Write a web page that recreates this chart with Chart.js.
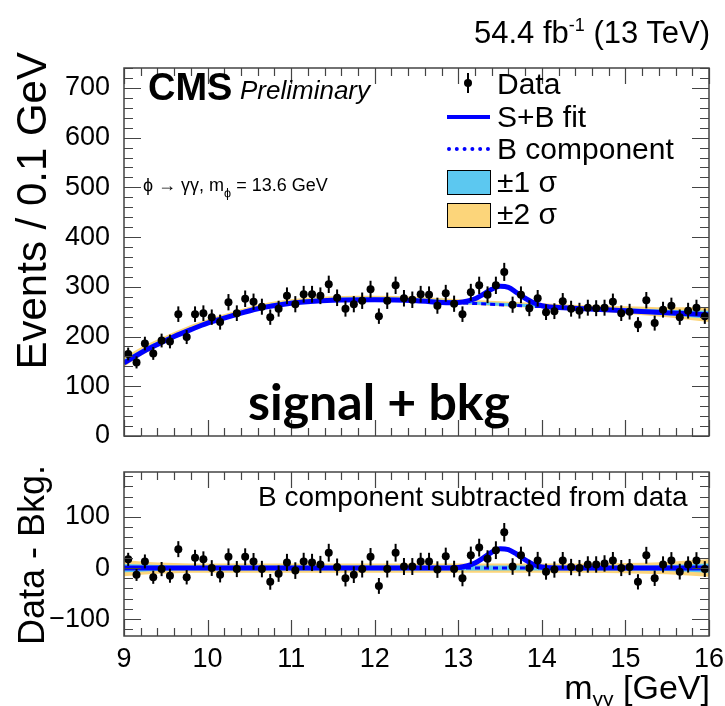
<!DOCTYPE html>
<html>
<head>
<meta charset="utf-8">
<script src="https://cdn.jsdelivr.net/npm/chart.js@4.4.1/dist/chart.umd.min.js"></script>
<style>
  body { margin: 0; background: #fff; }
  #wrap { position: relative; width: 725px; height: 706px; font-family: "Liberation Sans", Arial, sans-serif; color: #000; overflow: hidden; }
  #wrap canvas { position: absolute; left: 0; }
  .txt { position: absolute; white-space: nowrap; line-height: 1; }
  .sym { position: absolute; }
  .ytitle { position: absolute; white-space: nowrap; transform: rotate(-90deg); transform-origin: 50% 50%; }
</style>
</head>
<body>
<div id="wrap">
  <canvas id="topChart" width="725" height="450" style="top:0"></canvas>
  <canvas id="ratioChart" width="725" height="256" style="top:450px"></canvas>

  <div class="txt" style="right:15px; top:17px; font-size:31px;">54.4 fb<span style="font-size:0.58em; position:relative; top:-0.65em;">-1</span> (13 TeV)</div>
  <div class="txt" style="left:148px; top:68px; font-size:38px; font-weight:bold;">CMS</div>
  <div class="txt" style="left:240px; top:77px; font-size:26px; font-style:italic;">Preliminary</div>
  <div class="txt" style="left:143px; top:176px; font-size:18px;">ϕ → γγ, m<span style="font-size:0.7em; position:relative; top:0.45em;">ϕ</span> = 13.6 GeV</div>

  <div class="ytitle" style="left:-128px; top:191px; width:320px; height:42px; line-height:42px; font-size:42px; text-align:right;">Events / 0.1 GeV</div>
  <div class="ytitle" style="left:-68px; top:536px; width:200px; height:38px; line-height:38px; font-size:36px; text-align:center;">Data - Bkg.</div>

  <!-- legend -->
  <div class="sym" style="left:467px; top:73px; width:2px; height:20px; background:#000;"></div>
  <div class="sym" style="left:464px; top:79px; width:8px; height:8px; border-radius:50%; background:#000;"></div>
  <div class="txt" style="left:497px; top:69px; font-size:30px;">Data</div>
  <div class="sym" style="left:447px; top:115px; width:43px; height:4px; background:#0000ff;"></div>
  <div class="txt" style="left:497px; top:102px; font-size:30px;">S+B fit</div>
  <div class="sym" style="left:447px; top:147px; width:43px; height:0; border-top:4px dotted #0000ff;"></div>
  <div class="txt" style="left:497px; top:134px; font-size:30px;">B component</div>
  <div class="sym" style="left:447px; top:170px; width:42px; height:23px; background:#5cc8f0; border:1px solid #000;"></div>
  <div class="txt" style="left:497px; top:167px; font-size:30px;">±1 σ</div>
  <div class="sym" style="left:447px; top:203px; width:42px; height:23px; background:#fcd57a; border:1px solid #000;"></div>
  <div class="txt" style="left:497px; top:199px; font-size:30px;">±2 σ</div>

  <div class="txt" style="left:248px; top:376px; font-size:50px; font-weight:bold; font-family:Lato, 'Open Sans', sans-serif;">signal + bkg</div>
  <div class="txt" style="left:258px; top:483px; font-size:28px;">B component subtracted from data</div>
  <div class="txt" style="right:15px; top:670px; font-size:34px;">m<span style="font-size:0.62em; position:relative; top:0.35em;">γγ</span> [GeV]</div>
</div>

<script>
// bin centres of the 0.1 GeV histogram
const massBins = [9.05, 9.15, 9.25, 9.35, 9.45, 9.55, 9.65, 9.75, 9.85, 9.95,
  10.05, 10.15, 10.25, 10.35, 10.45, 10.55, 10.65, 10.75, 10.85, 10.95,
  11.05, 11.15, 11.25, 11.35, 11.45, 11.55, 11.65, 11.75, 11.85, 11.95,
  12.05, 12.15, 12.25, 12.35, 12.45, 12.55, 12.65, 12.75, 12.85, 12.95,
  13.05, 13.15, 13.25, 13.35, 13.45, 13.55, 13.65, 13.75, 13.85, 13.95,
  14.05, 14.15, 14.25, 14.35, 14.45, 14.55, 14.65, 14.75, 14.85, 14.95,
  15.05, 15.15, 15.25, 15.35, 15.45, 15.55, 15.65, 15.75, 15.85, 15.95];

// events per bin (top panel)
const events = [165, 148, 186, 166, 192, 190, 245, 199, 245, 247,
  239, 229, 269, 247, 276, 270, 260, 239, 256, 282,
  265, 285, 285, 282, 305, 278, 256, 265, 272, 295,
  241, 272, 303, 277, 274, 285, 284, 262, 287, 266,
  245, 289, 303, 284, 303, 330, 264, 284, 257, 277,
  249, 251, 271, 256, 252, 258, 257, 258, 270, 247,
  250, 224, 273, 227, 254, 262, 239, 252, 258, 241];

// data minus background (bottom panel)
const residuals = [17, -13, 13, -18, -2, -15, 37, -18, 20, 17,
  0, -13, 22, -2, 22, 13, -2, -27, -11, 11,
  -5, 13, 11, 7, 30, 2, -20, -13, -2, 22,
  -35, -2, 30, 3, 3, 13, 13, -3, 23, -2,
  -20, 25, 40, 18, 35, 70, 3, 25, 0, 15,
  -7, -3, 15, 2, 0, 7, 7, 9, 15, 0,
  2, -27, 25, -20, 7, 15, -7, 7, 15, -2];

// background fit
const bkgMass = [9.0, 9.2, 9.4, 9.6, 9.8, 10.0, 10.3, 10.6, 11.0, 11.5, 12.0, 12.5, 13.0, 13.5, 14.0, 14.5, 15.0, 15.5, 16.0];
const bkgFit  = [147, 167, 184, 200, 214, 227, 242, 256, 267, 273, 274, 272, 268, 264, 260, 256, 252, 248, 244];
// band half widths (events) above / below the background curve
const band2Up   = [12, 11, 10, 9, 9, 8, 8, 8, 8, 8, 8, 8, 7, 7, 7, 7, 9, 11, 15];
const band2Down = [8, 6, 5, 4, 3, 3, 3, 3, 3, 3, 3, 3, 3, 3, 3, 3, 6, 9, 15];
const band1Up   = [7, 6, 6, 5, 5, 5, 5, 5, 5, 5, 5, 5, 4, 4, 4, 4, 5, 6, 8];
const band1Down = [4, 3, 3, 2, 2, 2, 2, 2, 2, 2, 2, 2, 2, 2, 2, 2, 3, 5, 8];
// bands in the lower panel (half widths)
const ratioBand2 = [16, 13, 11, 10, 9, 9, 9, 9, 9, 9, 9, 9, 9, 9, 9, 9, 10, 12, 17];
const ratioBand1 = [8, 7, 6, 5, 5, 5, 5, 5, 5, 5, 5, 5, 5, 5, 5, 5, 5, 6, 9];

// signal region of the S+B curve
const peakMass = [12.9, 13.0, 13.1, 13.2, 13.3, 13.4, 13.5, 13.6, 13.7, 13.8, 13.9, 14.0, 14.1, 14.2];
const sbPeak   = [268, 268.5, 271, 276, 285, 295, 301, 299, 288, 277, 268, 262, 259.5, 258.5];
const sigPeak  = [0, 1, 4, 10, 20, 31, 38, 36, 27, 16, 7, 2, 0.5, 0];

const FONT = "'Liberation Sans', Arial, sans-serif";
const BLUE = '#0000ff';
const SIG1 = '#5cc8f0';
const SIG2 = '#fcd57a';

const pts = (xs, ys) => xs.map((x, i) => ({ x, y: ys[i] }));
const sbCurve = [
  ...pts(bkgMass, bkgFit).filter(p => p.x < 12.9),
  ...pts(peakMass, sbPeak),
  ...pts(bkgMass, bkgFit).filter(p => p.x > 14.2)
];
const sigCurve = [{ x: 9, y: 0 }, ...pts(peakMass, sigPeak), { x: 16, y: 0 }];
const errs = events.map(v => Math.sqrt(v));

// vertical error bars under the markers
const errorBars = {
  id: 'errorBars',
  beforeDatasetDraw(chart, args) {
    const ds = chart.data.datasets[args.index];
    if (!ds.errors) return;
    const { ctx, chartArea: a, scales: { x, y } } = chart;
    ctx.save();
    ctx.beginPath();
    ctx.rect(a.left, a.top, a.right - a.left, a.bottom - a.top);
    ctx.clip();
    ctx.strokeStyle = '#000';
    ctx.lineWidth = 2;
    ds.data.forEach((p, i) => {
      const px = x.getPixelForValue(p.x);
      ctx.beginPath();
      ctx.moveTo(px, y.getPixelForValue(p.y - ds.errors[i]));
      ctx.lineTo(px, y.getPixelForValue(p.y + ds.errors[i]));
      ctx.stroke();
    });
    ctx.restore();
  }
};

// ROOT style frame with ticks on all four sides
const rootFrame = {
  id: 'rootFrame',
  afterDraw(chart, args, o) {
    const { ctx, chartArea: a, scales: { x, y } } = chart;
    ctx.save();
    ctx.strokeStyle = '#444';
    ctx.lineWidth = 1.5;
    ctx.strokeRect(a.left, a.top, a.right - a.left, a.bottom - a.top);
    ctx.lineWidth = 1.2;
    ctx.beginPath();
    for (let v = x.min; v <= x.max + 1e-6; v += o.xMinor) {
      const major = Math.abs(v - Math.round(v)) < 1e-6;
      const len = major ? o.xMajor : o.xMinorLen;
      const px = Math.round(x.getPixelForValue(v)) + 0.5;
      ctx.moveTo(px, a.bottom); ctx.lineTo(px, a.bottom - len);
      ctx.moveTo(px, a.top); ctx.lineTo(px, a.top + len);
    }
    const y0 = Math.ceil(y.min / o.yMinor) * o.yMinor;
    for (let v = y0; v <= y.max + 1e-6; v += o.yMinor) {
      const major = Math.abs(v / 100 - Math.round(v / 100)) < 1e-6;
      const len = major ? o.yMajor : o.yMinorLen;
      const py = Math.round(y.getPixelForValue(v)) + 0.5;
      ctx.moveTo(a.left, py); ctx.lineTo(a.left + len, py);
      ctx.moveTo(a.right, py); ctx.lineTo(a.right - len, py);
    }
    ctx.stroke();
    ctx.restore();
  }
};
const frameOpts = { xMinor: 0.2, xMajor: 16, xMinorLen: 8, yMinor: 20, yMajor: 17, yMinorLen: 9 };

const line = (label, data, color, width, order, extra) => Object.assign({
  type: 'line', label, data, borderColor: color, borderWidth: width,
  pointRadius: 0, fill: false, cubicInterpolationMode: 'monotone', order
}, extra || {});

const bandLine = (label, data, order, fill, color) => ({
  type: 'line', label, data, borderWidth: 0, pointRadius: 0,
  cubicInterpolationMode: 'monotone', order,
  fill: fill, backgroundColor: color
});

// fixed width y axis, no extra padding for half-height labels
const yAxis = (min, max) => ({
  min, max,
  afterFit: s => { s.width = 124; s.paddingTop = 0; s.paddingBottom = 0; },
  grid: { display: false, drawTicks: false },
  border: { display: false },
  ticks: {
    stepSize: 100, includeBounds: false, padding: 14, color: '#000',
    font: { family: FONT, size: 27 },
    callback: v => (v < 0 ? '\u2212' + Math.abs(v) : String(v))
  }
});

// top panel: data and fit
new Chart(document.getElementById('topChart'), {
  type: 'line',
  data: {
    datasets: [
      { type: 'scatter', label: 'Data', data: pts(massBins, events), errors: errs,
        pointRadius: 4, pointBackgroundColor: '#000', pointBorderWidth: 0, order: 0 },
      line('S+B fit', sbCurve, BLUE, 5, 1),
      line('B component', pts(bkgMass, bkgFit), BLUE, 3, 2, { borderDash: [5, 4] }),
      bandLine('1s up', pts(bkgMass, bkgFit.map((b, i) => b + band1Up[i])), 3, false),
      bandLine('1s down', pts(bkgMass, bkgFit.map((b, i) => b - band1Down[i])), 3, '-1', SIG1),
      bandLine('2s up', pts(bkgMass, bkgFit.map((b, i) => b + band2Up[i])), 4, false),
      bandLine('2s down', pts(bkgMass, bkgFit.map((b, i) => b - band2Down[i])), 4, '-1', SIG2)
    ]
  },
  options: {
    responsive: false, animation: false,
    layout: { padding: { top: 68, right: 16, bottom: 14, left: 0 } },
    plugins: { legend: { display: false }, tooltip: { enabled: false }, rootFrame: frameOpts },
    scales: {
      x: { type: 'linear', min: 9, max: 16, display: false },
      y: yAxis(0, 740)
    }
  },
  plugins: [errorBars, rootFrame]
});

// bottom panel: background subtracted
new Chart(document.getElementById('ratioChart'), {
  type: 'line',
  data: {
    datasets: [
      { type: 'scatter', label: 'Data - Bkg.', data: pts(massBins, residuals), errors: errs,
        pointRadius: 4, pointBackgroundColor: '#000', pointBorderWidth: 0, order: 0 },
      line('S+B fit', sigCurve, BLUE, 5, 1),
      line('B component', [{ x: 9, y: 0 }, { x: 16, y: 0 }], BLUE, 3, 2, { borderDash: [5, 4] }),
      bandLine('1s up', pts(bkgMass, ratioBand1), 3, false),
      bandLine('1s down', pts(bkgMass, ratioBand1.map(v => -v)), 3, '-1', SIG1),
      bandLine('2s up', pts(bkgMass, ratioBand2), 4, false),
      bandLine('2s down', pts(bkgMass, ratioBand2.map(v => -v)), 4, '-1', SIG2)
    ]
  },
  options: {
    responsive: false, animation: false,
    layout: { padding: { top: 22, right: 16, bottom: 0, left: 0 } },
    plugins: { legend: { display: false }, tooltip: { enabled: false }, rootFrame: frameOpts },
    scales: {
      x: {
        type: 'linear', min: 9, max: 16,
        afterFit: s => { s.height = 70; s.paddingLeft = 0; s.paddingRight = 0; },
        grid: { display: false, drawTicks: false },
        border: { display: false },
        ticks: { stepSize: 1, padding: 7, color: '#000', font: { family: FONT, size: 27 }, maxRotation: 0 }
      },
      y: yAxis(-133, 188)
    }
  },
  plugins: [errorBars, rootFrame]
});
</script>
</body>
</html>
